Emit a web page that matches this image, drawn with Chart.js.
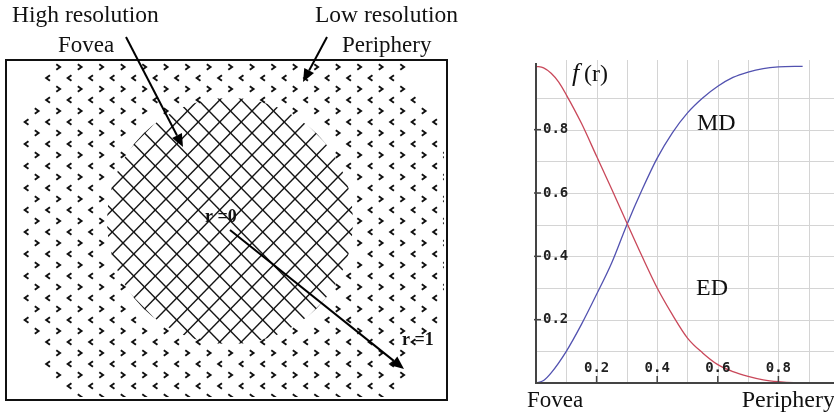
<!DOCTYPE html>
<html>
<head>
<meta charset="utf-8">
<script src="https://cdn.jsdelivr.net/npm/chart.js@4/dist/chart.umd.min.js"></script>
<style>
  html, body { margin: 0; padding: 0; background: #fff; }
  #wrap { position: relative; width: 834px; height: 417px; overflow: hidden; }
  #sketch { position: absolute; left: 0; top: 0; }
  #plotBox { position: absolute; left: 480px; top: 0; width: 354px; height: 417px; }
</style>
</head>
<body>
<div id="wrap">
  <canvas id="sketch" width="480" height="417"></canvas>
  <div id="plotBox"><canvas id="fr"></canvas></div>
</div>
<script>
// r positions and curve values
const mdR = [0, 0.025, 0.05, 0.1, 0.15, 0.2, 0.25, 0.3, 0.35, 0.4, 0.45, 0.5, 0.55, 0.6, 0.65, 0.7, 0.75, 0.8, 0.88];
const mdValues = [0, 0.008, 0.032, 0.1, 0.185, 0.28, 0.38, 0.5, 0.61, 0.71, 0.79, 0.853, 0.9, 0.937, 0.965, 0.982, 0.993, 0.998, 1.0];
const edR = [0, 0.025, 0.05, 0.075, 0.1, 0.15, 0.2, 0.25, 0.3, 0.35, 0.4, 0.45, 0.5, 0.55, 0.6, 0.65, 0.7, 0.75, 0.8, 0.85, 0.98];
const edValues = [1.0, 0.995, 0.978, 0.95, 0.91, 0.82, 0.716, 0.612, 0.505, 0.4, 0.3, 0.216, 0.142, 0.095, 0.058, 0.036, 0.021, 0.01, 0.004, 0.001, 0.0];

const gridSteps = [0.1, 0.2, 0.3, 0.4, 0.5, 0.6, 0.7, 0.8, 0.9];
const xTickLabels = ["0.2", "0.4", "0.6", "0.8"];
const yTickLabels = ["0.2", "0.4", "0.6", "0.8"];

const serif = '"Liberation Serif", "DejaVu Serif", serif';
const mono = '"DejaVu Sans Mono", "Liberation Mono", monospace';

// ---------- left: fovea / periphery sketch ----------
function drawSketch() {
    const ctx = document.getElementById("sketch").getContext("2d");
    ctx.fillStyle = "#fff";
    ctx.fillRect(0, 0, 480, 417);

    const box = { l: 6, t: 60, r: 447, b: 400 };
    const cx = 230, cy = 221;
    const outerR = 232, foveaR = 123;
    const dx = 10.75, dy = 11;

    ctx.save();
    ctx.beginPath();
    ctx.rect(box.l + 3, box.t + 3, box.r - box.l - 6, box.b - box.t - 6);
    ctx.clip();

    const pts = [];
    for (let j = -1; j * dy + 67 < 398; j++) {
        const y = 67 + j * dy;
        for (let i = -2; i < 24; i++) {
            const x = 80 + i * 2 * dx - (Math.abs(j) % 2 ? dx : 0);
            pts.push({ x, y, j });
        }
    }
    const dist = (p) => Math.hypot(p.x - cx, p.y - cy);

    // periphery chevrons
    ctx.strokeStyle = "#111";
    ctx.lineWidth = 1.9;
    pts.forEach(p => {
        const d = dist(p);
        if (p.j < 0 || d > outerR || d < foveaR + 2) return;
        const s = Math.abs(p.j) % 2 ? -1 : 1;
        ctx.beginPath();
        ctx.moveTo(p.x - 2.2 * s, p.y - 2.8);
        ctx.lineTo(p.x + 1.6 * s, p.y);
        ctx.lineTo(p.x - 2.2 * s, p.y + 2.8);
        ctx.stroke();
    });

    // fovea mesh, clipped to a disc
    ctx.save();
    ctx.beginPath();
    ctx.arc(cx, cy, foveaR, 0, Math.PI * 2);
    ctx.clip();
    ctx.lineWidth = 1.4;
    ctx.strokeStyle = "#151515";
    pts.forEach(p => {
        if (dist(p) > foveaR + 20) return;
        [[dx, dy], [-dx, dy]].forEach(([ox, oy]) => {
            ctx.beginPath();
            ctx.moveTo(p.x, p.y);
            ctx.lineTo(p.x + ox, p.y + oy);
            ctx.stroke();
        });
    });
    ctx.restore();
    ctx.restore();

    // frame
    ctx.strokeStyle = "#111";
    ctx.lineWidth = 2;
    ctx.strokeRect(box.l, box.t, box.r - box.l, box.b - box.t);

    function arrow(x1, y1, x2, y2, w) {
        const a = Math.atan2(y2 - y1, x2 - x1);
        const hl = 13, hw = 5.5;
        ctx.strokeStyle = "#000";
        ctx.fillStyle = "#000";
        ctx.lineWidth = w;
        ctx.beginPath();
        ctx.moveTo(x1, y1);
        ctx.lineTo(x2 - hl * Math.cos(a), y2 - hl * Math.sin(a));
        ctx.stroke();
        ctx.beginPath();
        ctx.moveTo(x2, y2);
        ctx.lineTo(x2 - hl * Math.cos(a) - hw * Math.sin(a), y2 - hl * Math.sin(a) + hw * Math.cos(a));
        ctx.lineTo(x2 - hl * Math.cos(a) + hw * Math.sin(a), y2 - hl * Math.sin(a) - hw * Math.cos(a));
        ctx.closePath();
        ctx.fill();
    }
    arrow(126, 37, 183, 147, 2);
    arrow(327, 37, 303, 82, 2);
    arrow(230, 230, 404, 369, 2);

    ctx.fillStyle = "#111";
    ctx.textBaseline = "alphabetic";
    ctx.textAlign = "left";
    ctx.font = "23.5px " + serif;
    ctx.fillText("High resolution", 12, 22);
    ctx.fillText("Low resolution", 315, 22);
    ctx.font = "23px " + serif;
    ctx.fillText("Fovea", 58, 52);
    ctx.fillText("Periphery", 342, 52);

    ctx.font = "bold 18px " + serif;
    ctx.fillText("r =0", 205, 222);
    ctx.fillText("r =1", 402, 345);
}
drawSketch();

// ---------- right: f(r) plot ----------
const frame = {
    id: "frame",
    beforeDatasetsDraw(chart) {
        const { ctx, chartArea: a, scales: { x, y } } = chart;
        ctx.save();
        ctx.strokeStyle = "#d4d4d4";
        ctx.lineWidth = 1;
        gridSteps.forEach(v => {
            const px = Math.round(x.getPixelForValue(v)) + 0.5;
            ctx.beginPath();
            ctx.moveTo(px, a.top);
            ctx.lineTo(px, a.bottom);
            ctx.stroke();
            const py = Math.round(y.getPixelForValue(v)) + 0.5;
            ctx.beginPath();
            ctx.moveTo(a.left, py);
            ctx.lineTo(a.right, py);
            ctx.stroke();
        });
        ctx.restore();
    },
    afterDatasetsDraw(chart) {
        const { ctx, chartArea: a, scales: { x, y } } = chart;
        ctx.save();
        ctx.strokeStyle = "#444";
        ctx.lineWidth = 2;
        ctx.beginPath();
        ctx.moveTo(a.left, a.top + 3);
        ctx.lineTo(a.left, a.bottom);
        ctx.lineTo(a.right, a.bottom);
        ctx.stroke();

        ctx.fillStyle = "#222";
        ctx.font = "bold 14px " + mono;
        ctx.textBaseline = "middle";
        ctx.lineWidth = 1.5;
        xTickLabels.forEach(t => {
            const px = x.getPixelForValue(parseFloat(t));
            ctx.beginPath();
            ctx.moveTo(px, a.bottom);
            ctx.lineTo(px, a.bottom - 7);
            ctx.stroke();
            ctx.textAlign = "center";
            ctx.fillText(t, px, a.bottom - 15);
        });
        yTickLabels.forEach(t => {
            const py = y.getPixelForValue(parseFloat(t));
            ctx.beginPath();
            ctx.moveTo(a.left - 2, py);
            ctx.lineTo(a.left + 5, py);
            ctx.stroke();
            ctx.textAlign = "left";
            ctx.fillText(t, a.left + 7, py);
        });

        ctx.fillStyle = "#111";
        ctx.textBaseline = "alphabetic";
        ctx.textAlign = "left";
        ctx.font = "italic 26px " + serif;
        const fx = x.getPixelForValue(0.119), fy = y.getPixelForValue(0.955);
        ctx.fillText("f", fx, fy);
        ctx.font = "24px " + serif;
        ctx.fillText("(r)", fx + 12, fy);
        ctx.fillText("MD", x.getPixelForValue(0.531), y.getPixelForValue(0.8));
        ctx.fillText("ED", x.getPixelForValue(0.528), y.getPixelForValue(0.278));

        ctx.font = "23px " + serif;
        ctx.fillText("Fovea", a.left - 9, a.bottom + 24);
        ctx.textAlign = "right";
        ctx.font = "24px " + serif;
        ctx.fillText("Periphery", a.right + 1, a.bottom + 24);
        ctx.restore();
    }
};

new Chart(document.getElementById("fr"), {
    type: "line",
    data: {
        datasets: [
            {
                label: "ED",
                data: edR.map((r, i) => ({ x: r, y: edValues[i] })),
                borderColor: "#c9485a",
                borderWidth: 1.3,
                pointRadius: 0,
                cubicInterpolationMode: "monotone"
            },
            {
                label: "MD",
                data: mdR.map((r, i) => ({ x: r, y: mdValues[i] })),
                borderColor: "#5252b0",
                borderWidth: 1.3,
                pointRadius: 0,
                cubicInterpolationMode: "monotone"
            }
        ]
    },
    options: {
        responsive: true,
        maintainAspectRatio: false,
        animation: false,
        layout: { padding: { left: 56, right: 0, top: 60, bottom: 34 } },
        plugins: { legend: { display: false }, tooltip: { enabled: false } },
        scales: {
            x: { type: "linear", min: 0, max: 0.9835, display: false },
            y: { min: 0, max: 1.02, display: false }
        }
    },
    plugins: [frame]
});
</script>
</body>
</html>
